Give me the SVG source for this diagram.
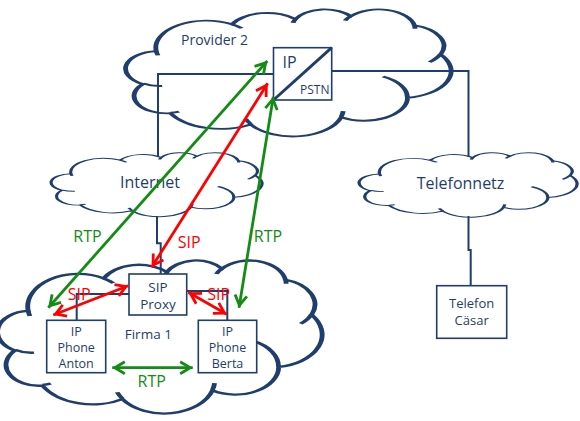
<svg xmlns="http://www.w3.org/2000/svg" xmlns:xlink="http://www.w3.org/1999/xlink" width="580" height="421" viewBox="0 0 580 421">
<style>
.cloud{fill:#fff;stroke:#1f3d6d;stroke-width:1.5;vector-effect:non-scaling-stroke}
.cin{fill:none;stroke:#1f3d6d;stroke-width:1.5;vector-effect:non-scaling-stroke}
.box{fill:#fff;stroke:#1f3d6d;stroke-width:1.6}
.con{fill:none;stroke:#1f3d6d;stroke-width:2}
.t{font-family:"Open Sans","Noto Sans","Liberation Sans",sans-serif;fill:#1f3d6d;text-anchor:middle}
.g{fill:none;stroke:#128c12;stroke-width:2.8;marker-start:url(#ahG);marker-end:url(#ahG)}
.r{fill:none;stroke:#ff0000;stroke-width:2.8;marker-start:url(#ahR);marker-end:url(#ahR)}
.lg{font-family:"Open Sans","Noto Sans","Liberation Sans",sans-serif;fill:#128c12;font-size:16px;text-anchor:middle}
.lr{font-family:"Open Sans","Noto Sans","Liberation Sans",sans-serif;fill:#ff0000;font-size:16px;text-anchor:middle}
</style>
<defs>
<path id="cloudOutline" d="M9.03,33.26 A15.63,21.27 0 0 1 32.42,12.04 A12.34,16.82 0 0 1 51.98,7.94 A10.10,13.76 0 0 1 69.06,5.73 A11.24,15.27 0 0 1 88.70,12.90 A12.34,16.84 0 0 1 96.80,35.78 A15.68,21.34 0 0 1 86.59,69.91 A13.39,18.21 0 0 1 66.11,85.21 A15.63,21.33 0 0 1 38.16,90.89 A17.87,24.41 0 0 1 13.44,82.10 A10.09,13.70 0 0 1 4.89,59.14 A10.06,13.76 0 0 1 9.03,33.26 Z"/>
<path id="cloudInner" d="M10.86,60.59 A10.06,13.76 0 0 1 5.00,58.75 M16.04,80.78 A10.09,13.70 0 0 1 13.47,81.67 M38.14,90.49 A15.63,21.33 0 0 1 36.59,86.45 M66.73,80.44 A15.63,21.33 0 0 1 66.11,84.86 M79.00,53.13 A13.39,18.21 0 0 1 86.53,69.65 M96.75,35.54 A12.34,16.84 0 0 1 93.40,41.74 M88.71,12.56 A11.24,15.27 0 0 1 88.89,15.49 M67.31,9.15 A11.24,15.27 0 0 1 69.03,5.42 M51.25,10.93 A10.10,13.76 0 0 1 52.08,7.71 M32.41,12.02 A15.63,21.27 0 0 1 35.41,15.14 M9.55,36.55 A15.63,21.27 0 0 1 9.03,33.27"/>
<marker id="ahG" viewBox="-13 -8 17 16" refX="2.5" refY="0" markerWidth="17" markerHeight="16" markerUnits="userSpaceOnUse" orient="auto-start-reverse">
<path d="M-10,-6 L0,0 L-10,6" fill="none" stroke="#128c12" stroke-width="2.8"/>
</marker>
<marker id="ahR" viewBox="-13 -8 17 16" refX="2.5" refY="0" markerWidth="17" markerHeight="16" markerUnits="userSpaceOnUse" orient="auto-start-reverse">
<path d="M-10,-6 L0,0 L-10,6" fill="none" stroke="#ff0000" stroke-width="2.8"/>
</marker>
</defs>

<g id="provider2">
<g transform="translate(127,9) scale(3.24,1.27)">
<use xlink:href="#cloudOutline" class="cloud"/>
<use xlink:href="#cloudInner" class="cin"/>
</g>
<text class="t" x="214.5" y="44.5" font-size="14">Provider 2</text>
</g>

<g id="internet">
<g transform="translate(52,152.5) scale(2.10,0.64)">
<use xlink:href="#cloudOutline" class="cloud"/>
<use xlink:href="#cloudInner" class="cin"/>
</g>
<text class="t" x="150" y="188.3" font-size="16">Internet</text>
</g>

<g id="telefonnetz">
<g transform="translate(360,152.5) scale(2.17,0.645)">
<use xlink:href="#cloudOutline" class="cloud"/>
<use xlink:href="#cloudInner" class="cin"/>
</g>
<text class="t" x="460.5" y="189" font-size="16">Telefonnetz</text>
</g>

<g id="firma1">
<g transform="translate(-1,260) scale(3.23,1.53)">
<use xlink:href="#cloudOutline" class="cloud"/>
<use xlink:href="#cloudInner" class="cin"/>
</g>
<text class="t" x="148.3" y="339.3" font-size="13.5">Firma 1</text>
</g>

<g id="connectors">
<path class="con" d="M273.5,74 H158 V157"/>
<path class="con" d="M331.7,71 H468.5 V157"/>
<path class="con" d="M468.5,216 V250 H470.7 V285.7"/>
<path class="con" d="M157,216 V243.3 H160.7 V274"/>
<path class="con" d="M76.7,320.3 V294 H129"/>
<path class="con" d="M186.7,291 H227.3 V320.3"/>
</g>

<g id="gateway">
<rect class="box" x="273.5" y="47.7" width="58.2" height="52.3"/>
<line x1="273.5" y1="100" x2="331.7" y2="47.7" stroke="#1f3d6d" stroke-width="3"/>
<text class="t" x="282.5" y="67.7" font-size="16" style="text-anchor:start">IP</text>
<text class="t" x="329.5" y="94.3" font-size="12" style="text-anchor:end">PSTN</text>
</g>

<g id="sipproxy">
<rect class="box" x="129" y="274" width="57.7" height="41"/>
<text class="t" x="158" y="291.7" font-size="13.5">SIP</text>
<text class="t" x="158" y="309" font-size="13.5">Proxy</text>
</g>

<g id="anton">
<rect class="box" x="46.7" y="320.3" width="59" height="52.4"/>
<text class="t" x="76.2" y="336.4" font-size="12.5">IP</text>
<text class="t" x="76.2" y="352.4" font-size="12.5">Phone</text>
<text class="t" x="76.2" y="368.4" font-size="12.5">Anton</text>
</g>

<g id="berta">
<rect class="box" x="198.3" y="320.3" width="58.4" height="52.4"/>
<text class="t" x="227.5" y="336.4" font-size="12.5">IP</text>
<text class="t" x="227.5" y="352.4" font-size="12.5">Phone</text>
<text class="t" x="227.5" y="368.4" font-size="12.5">Berta</text>
</g>

<g id="caesar">
<rect class="box" x="436.7" y="285.7" width="70" height="52.6"/>
<text class="t" x="471.7" y="308.3" font-size="13">Telefon</text>
<text class="t" x="471.7" y="325" font-size="13">Cäsar</text>
</g>

<g id="flows">
<path class="g" d="M48.3,307.7 L267.3,61"/>
<path class="r" d="M151.7,267.3 L267.7,83.3"/>
<path class="g" d="M239,307.7 L273.3,96.7"/>
<path class="r" d="M53.3,315 L128.3,285.7"/>
<path class="r" d="M188.3,292.3 L226.7,314.3"/>
<path class="g" d="M112.3,367.7 L192.7,367.7"/>
<text class="lg" x="87.5" y="241.7">RTP</text>
<text class="lg" x="268" y="241.7">RTP</text>
<text class="lg" x="151.7" y="386.7">RTP</text>
<text class="lr" x="189.2" y="248.3">SIP</text>
<text class="lr" x="79.2" y="300">SIP</text>
<text class="lr" x="218.7" y="300">SIP</text>
</g>
</svg>
